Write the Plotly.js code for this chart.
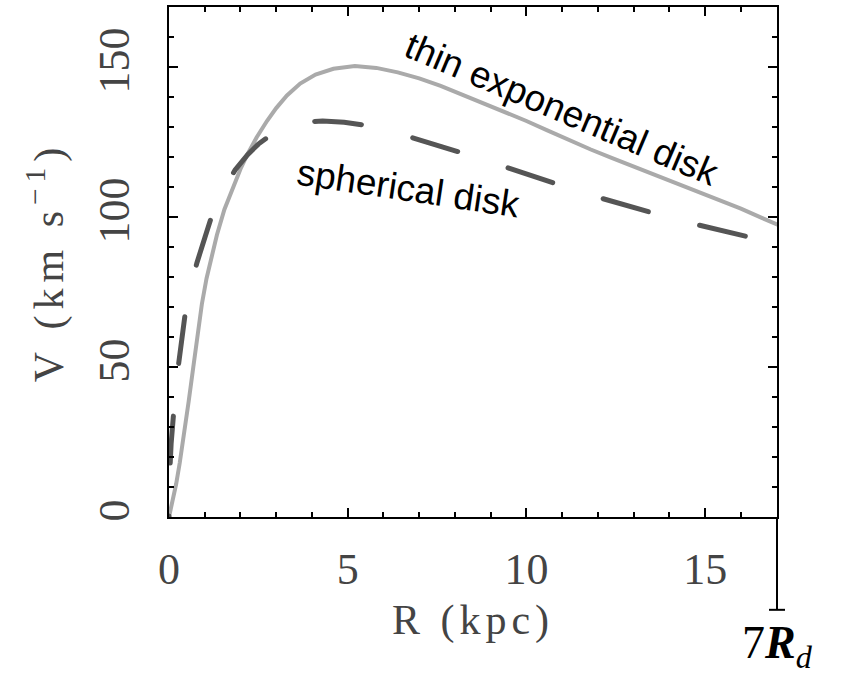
<!DOCTYPE html>
<html>
<head>
<meta charset="utf-8">
<script src="https://cdn.plot.ly/plotly-3.0.1.min.js"></script>
<style>
  html, body { margin: 0; padding: 0; background: #fff; }
  #chart { width: 845px; height: 682px; }
  /* rounded dash ends, dash phase starting with a gap at the origin */
  .scatterlayer .js-line { stroke-linecap: round; stroke-dashoffset: 46px; }
  .g-xtitle text { letter-spacing: 5px; }
  .g-ytitle text { letter-spacing: 6px; }
</style>
</head>
<body>
<div id="chart"></div>
<script>
// Radial scale length of the disk (kpc); the plot runs out to 7 R_d
const diskScaleLength = 2.43;

// Rotation curve of the thin exponential disk: radius (kpc) and speed (km/s)
const thinDiskR = [0, 0.1, 0.2, 0.3, 0.4, 0.55, 0.68, 0.8, 0.92, 1.05, 1.2, 1.34, 1.55,
  1.8, 2.0, 2.2, 2.45, 2.74, 3.0, 3.3, 3.67, 4.1, 4.6, 5.2, 5.8, 6.4, 7.0, 7.6, 8.2,
  8.8, 9.4, 10.0, 10.6, 11.2, 11.8, 12.4, 13.0, 13.6, 14.2, 14.8, 15.4, 16.0, 16.6, 17.01];
const thinDiskV = [0, 5, 11, 18, 25.7, 38.5, 50, 61, 71, 79.5, 87.5, 94, 102.5,
  110.5, 116, 121, 126.5, 132, 136.3, 140.5, 144.5, 147.5, 149.4, 150.3, 149.7, 148.2, 146.2, 143.7, 140.8,
  138, 135, 132, 128.8, 125.6, 122.5, 119.6, 116.8, 114, 111.2, 108.4, 105.6, 102.8, 99.6, 97.5];

// Rotation curve of the same mass arranged spherically
const sphericalR = [0, 0.01, 0.03, 0.06, 0.09, 0.12, 0.18, 0.26, 0.35, 0.45, 0.6, 0.78,
  1.0, 1.2, 1.5, 1.85, 2.2, 2.5, 2.88, 3.3, 3.8, 4.3, 4.9, 5.6, 6.3, 6.98, 7.7, 8.41,
  9.05, 9.69, 10.3, 11.0, 11.7, 12.44, 13.1, 13.84, 14.5, 15.2, 15.9, 16.6, 17.01];
const sphericalV = [0, 10, 17, 24.5, 30, 34.5, 42, 50.2, 59, 67.5, 76.5, 84.7,
  93, 100.5, 108.5, 115.7, 120.8, 124.3, 127.6, 130.2, 131.7, 132, 131.6, 130.4, 128.3, 125.9, 123.3, 120.6,
  118.1, 115.7, 113.2, 110.4, 107.6, 105, 102.6, 100.3, 98.2, 96.1, 94.1, 92.3, 91.3];

// Axis ticks
const xTickVals = [0, 5, 10, 15];
const yTickVals = [0, 50, 100, 150];

const curveLabels = ['thin exponential disk', 'spherical disk'];

const tickFont = { family: 'Liberation Serif, serif', size: 44, color: '#444' };
const titleFont = { family: 'Liberation Serif, serif', size: 42, color: '#444' };
const labelFont = { family: 'Liberation Sans, Arial, sans-serif', size: 37, color: '#000' };

const traces = [
  {
    x: thinDiskR, y: thinDiskV, type: 'scatter', mode: 'lines',
    name: curveLabels[0],
    line: { color: '#aaaaaa', width: 4 }
  },
  {
    x: sphericalR, y: sphericalV, type: 'scatter', mode: 'lines',
    name: curveLabels[1],
    line: { color: '#555555', width: 5, dash: '47px,53px' }
  }
];

const axisCommon = {
  showline: true, linecolor: '#000', linewidth: 2, mirror: 'ticks',
  ticks: 'inside', ticklen: 9, tickwidth: 2, tickcolor: '#000',
  showgrid: false, zeroline: false, tickfont: tickFont, automargin: false
};

const xEnd = 7 * diskScaleLength;

const layout = {
  width: 845, height: 682,
  margin: { l: 169, r: 68, t: 7, b: 165 },
  paper_bgcolor: '#fff', plot_bgcolor: '#fff',
  showlegend: false,
  xaxis: Object.assign({}, axisCommon, {
    range: [0, xEnd],
    tickmode: 'array', tickvals: xTickVals, ticktext: xTickVals.map(String),
    ticklabelstandoff: 12,
    minor: { dtick: 1, tick0: 0, ticks: 'inside', ticklen: 5, tickwidth: 2, tickcolor: '#000' },
    title: { text: 'R\u00a0(kpc)', font: titleFont, standoff: 12 }
  }),
  yaxis: Object.assign({}, axisCommon, {
    range: [0, 170],
    tickmode: 'array', tickvals: yTickVals, ticktext: yTickVals.map(String),
    tickangle: -90,
    ticklabelstandoff: 20,
    minor: { dtick: 10, tick0: 0, ticks: 'inside', ticklen: 5, tickwidth: 2, tickcolor: '#000' },
    title: { text: 'V\u00a0(km\u00a0s<sup>\u22121</sup>)', font: titleFont, standoff: 14 }
  }),
  annotations: [
    {
      text: curveLabels[0], xref: 'x', yref: 'y', x: 11.0, y: 136,
      xanchor: 'center', yanchor: 'middle', textangle: 23,
      showarrow: false, font: labelFont
    },
    {
      text: curveLabels[1], xref: 'x', yref: 'y', x: 6.7, y: 109.5,
      xanchor: 'center', yanchor: 'middle', textangle: 8.5,
      showarrow: false, font: labelFont
    },
    {
      text: '7<b><i>R</i></b><sub><i>d</i></sub>',
      xref: 'paper', yref: 'paper', x: 1, y: -0.192,
      xanchor: 'center', yanchor: 'top', showarrow: false,
      font: { family: 'Liberation Serif, serif', size: 46, color: '#000' }
    }
  ],
  shapes: [
    // marker below the right edge at 7 R_d
    { type: 'line', xref: 'paper', yref: 'paper', x0: 1, x1: 1, y0: 0, y1: -0.182,
      line: { color: '#000', width: 2 } },
    { type: 'line', xref: 'paper', yref: 'paper', x0: 1 - 8 / 608, x1: 1 + 8 / 608, y0: -0.182, y1: -0.182,
      line: { color: '#000', width: 2 } }
  ]
};

Plotly.newPlot('chart', traces, layout, { staticPlot: true, displayModeBar: false });
</script>
</body>
</html>
